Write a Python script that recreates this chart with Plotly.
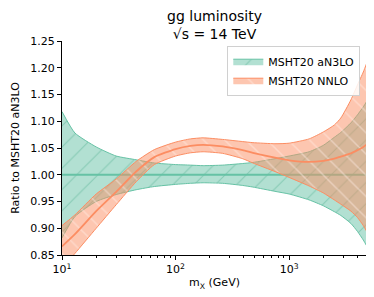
import plotly.graph_objects as go

# Data
m_vals = [10, 13, 20, 30, 45, 65, 100, 135, 175, 260, 390, 480, 750, 1000,
          1500, 2000, 2500, 2850, 3500, 4000, 4500, 4850]

an3lo_upper = [1.118, 1.078, 1.052, 1.035, 1.028, 1.022, 1.019, 1.018, 1.017, 1.018, 1.021,
               1.023, 1.030, 1.035, 1.043, 1.055, 1.070, 1.079, 1.097, 1.112, 1.127, 1.138]
an3lo_lower = [0.882, 0.922, 0.950, 0.963, 0.972, 0.978, 0.982, 0.984, 0.985, 0.984, 0.980,
               0.977, 0.969, 0.964, 0.953, 0.942, 0.931, 0.924, 0.909, 0.894, 0.878, 0.866]
an3lo_center = [1.00, 1.00, 1.00, 1.00, 1.00, 1.00, 1.00, 1.00, 1.00, 1.00, 1.00,
                1.00, 1.00, 1.00, 1.00, 1.00, 1.00, 1.00, 1.00, 1.00, 1.00, 1.00]

nnlo_center = [0.866, 0.889, 0.932, 0.968, 1.006, 1.033, 1.048, 1.054, 1.056, 1.053, 1.046,
               1.041, 1.032, 1.027, 1.024, 1.026, 1.030, 1.034, 1.040, 1.046, 1.052, 1.057]
nnlo_upper = [0.905, 0.925, 0.964, 0.992, 1.025, 1.047, 1.061, 1.067, 1.069, 1.066, 1.062,
              1.060, 1.058, 1.059, 1.067, 1.080, 1.093, 1.106, 1.140, 1.168, 1.192, 1.210]
nnlo_lower = [0.826, 0.853, 0.900, 0.944, 0.987, 1.019, 1.035, 1.041, 1.043, 1.040, 1.030,
              1.022, 1.006, 0.995, 0.979, 0.966, 0.953, 0.945, 0.932, 0.920, 0.905, 0.893]

y_ticks = [0.85, 0.90, 0.95, 1.00, 1.05, 1.10, 1.15, 1.20, 1.25]
x_ticks = [10, 100, 1000]
x_ticktext = ["10<sup>1</sup>", "10<sup>2</sup>", "10<sup>3</sup>"]
x_minor = [20, 30, 40, 50, 60, 70, 80, 90, 200, 300, 400, 500, 600, 700, 800, 900,
           2000, 3000, 4000]

TEAL = "#66c2a5"
TEAL_FILL = "rgba(102,194,165,0.5)"
TEAL_HATCH = "rgba(80,175,145,0.9)"
ORANGE = "#fc8d62"
ORANGE_FILL = "rgba(252,141,98,0.5)"
ORANGE_HATCH = "rgba(255,236,228,0.95)"
FONT = "DejaVu Sans"
SMOOTH = 0.55

fig = go.Figure()

# aN3LO band
fig.add_trace(go.Scatter(x=m_vals, y=an3lo_lower, mode="lines",
                         line=dict(color=TEAL, width=1, shape="spline", smoothing=SMOOTH),
                         showlegend=False, hoverinfo="skip"))
fig.add_trace(go.Scatter(x=m_vals, y=an3lo_upper, mode="lines", fill="tonexty",
                         fillcolor=TEAL_FILL,
                         fillpattern=dict(shape="/", bgcolor=TEAL_FILL, fgcolor=TEAL_HATCH,
                                          size=15, solidity=0.07),
                         line=dict(color=TEAL, width=1, shape="spline", smoothing=SMOOTH),
                         name="MSHT20 aN3LO"))
fig.add_trace(go.Scatter(x=[m_vals[-1], m_vals[-1]], y=[an3lo_upper[-1], an3lo_lower[-1]],
                         mode="lines", line=dict(color=TEAL, width=1),
                         showlegend=False, hoverinfo="skip"))
fig.add_trace(go.Scatter(x=m_vals, y=an3lo_center, mode="lines",
                         line=dict(color=TEAL, width=2),
                         showlegend=False, hoverinfo="skip"))

# NNLO band
fig.add_trace(go.Scatter(x=m_vals, y=nnlo_lower, mode="lines",
                         line=dict(color=ORANGE, width=1, shape="spline", smoothing=SMOOTH),
                         showlegend=False, hoverinfo="skip"))
fig.add_trace(go.Scatter(x=m_vals, y=nnlo_upper, mode="lines", fill="tonexty",
                         fillcolor=ORANGE_FILL,
                         fillpattern=dict(shape="\\", bgcolor=ORANGE_FILL, fgcolor=ORANGE_HATCH,
                                          size=15, solidity=0.1),
                         line=dict(color=ORANGE, width=1, shape="spline", smoothing=SMOOTH),
                         name="MSHT20 NNLO"))
fig.add_trace(go.Scatter(x=[m_vals[-1], m_vals[-1]], y=[nnlo_upper[-1], nnlo_lower[-1]],
                         mode="lines", line=dict(color=ORANGE, width=1.2),
                         showlegend=False, hoverinfo="skip"))
fig.add_trace(go.Scatter(x=m_vals, y=nnlo_center, mode="lines",
                         line=dict(color=ORANGE, width=1.8, shape="spline", smoothing=SMOOTH),
                         showlegend=False, hoverinfo="skip"))

# The page body adds an 8px offset, so the figure is 8px smaller and margins compensate
fig.update_layout(
    width=366, height=289,
    margin=dict(l=47, r=7, t=33, b=42),
    paper_bgcolor="white", plot_bgcolor="white",
    font=dict(family=FONT, size=11, color="black"),
    title=dict(text="gg luminosity<br>√s = 14 TeV", x=0.5, xref="paper", xanchor="center",
               y=0.955, yref="container", yanchor="top",
               font=dict(family=FONT, size=14, color="black")),
    legend=dict(x=0.978, y=0.978, xanchor="right", yanchor="top",
                traceorder="normal",
                bgcolor="rgba(255,255,255,0.85)", bordercolor="#d0d0d0", borderwidth=1,
                font=dict(family=FONT, size=11, color="black"),
                tracegroupgap=0),
    showlegend=True,
)

fig.update_xaxes(type="log", range=[1, 3.6857], showgrid=False, zeroline=False,
                 showline=True, linecolor="black", linewidth=1, mirror=False,
                 ticks="outside", ticklen=4, tickcolor="black",
                 tickvals=x_ticks, ticktext=x_ticktext,
                 minor=dict(ticks="outside", ticklen=2, tickcolor="black", tickvals=x_minor),
                 title=dict(text="m<sub>X</sub> (GeV)", standoff=3,
                            font=dict(family=FONT, size=11)))
fig.update_yaxes(range=[0.85, 1.25], showgrid=False, zeroline=False,
                 showline=True, linecolor="black", linewidth=1, mirror=False,
                 ticks="outside", ticklen=4, tickcolor="black",
                 tickvals=y_ticks, tickformat=".2f",
                 title=dict(text="Ratio to MSHT20 aN3LO", standoff=8,
                            font=dict(family=FONT, size=11)))

fig.write_html("out.html")
